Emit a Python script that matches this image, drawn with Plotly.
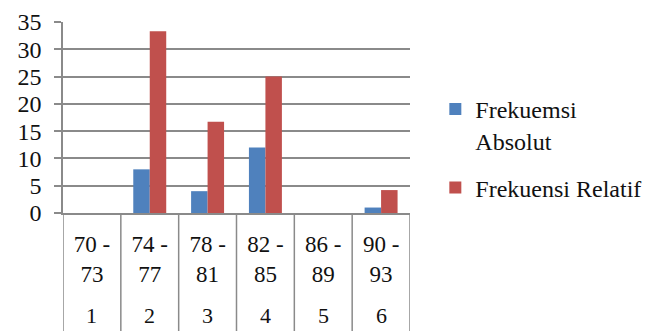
import plotly.graph_objects as go

ranges = ["70 - 73", "74 - 77", "78 - 81", "82 - 85", "86 - 89", "90 - 93"]
numbers = ["1", "2", "3", "4", "5", "6"]
absolut = [0, 8, 4, 12, 0, 1]
relatif = [0, 33.3, 16.7, 25, 0, 4.2]
yticks = [0, 5, 10, 15, 20, 25, 30, 35]

ticktext = []
for r in ranges:
    a, b = r.split(" - ")
    ticktext.append(f"{a} -<br>{b}")

xpos = list(range(len(ranges)))
GRID = "#8a8a8a"
FONT = "Liberation Serif, Times New Roman, serif"
TXT = "#111111"

fig = go.Figure()
fig.add_trace(go.Bar(x=xpos, y=absolut, name="Frekuemsi<br>Absolut", legendgroup="a",
                     marker=dict(color="#4F81BD", line=dict(width=0))))
fig.add_trace(go.Bar(x=xpos, y=relatif, name="Frekuensi Relatif", legendgroup="b",
                     marker=dict(color="#C0504D", line=dict(width=0))))

H_PLOT = 331 - 22 - 117.5
for i in range(len(ranges) + 1):
    fig.add_shape(type="line", xref="x", yref="paper",
                  x0=i - 0.5, x1=i - 0.5, y0=0, y1=-120 / H_PLOT,
                  line=dict(color=GRID, width=1.5))

for xi, n in zip(xpos, numbers):
    fig.add_annotation(x=xi, y=-103 / H_PLOT, xref="x", yref="paper",
                       text=n, showarrow=False, xanchor="center", yanchor="middle",
                       font=dict(family=FONT, size=22, color=TXT))

fig.update_layout(
    width=650, height=331,
    margin=dict(l=63, r=240, t=22, b=117.5, autoexpand=False),
    paper_bgcolor="white", plot_bgcolor="white",
    barmode="group", bargap=0.43, bargroupgap=0,
    font=dict(family=FONT, color=TXT),
    showlegend=True,
    legend=dict(x=1.073, y=0.66, xanchor="left", yanchor="top",
                font=dict(family=FONT, size=24, color=TXT),
                valign="top", traceorder="grouped", tracegroupgap=13, itemwidth=30,
                bgcolor="rgba(0,0,0,0)"),
)
fig.update_xaxes(range=[-0.5, len(ranges) - 0.5], tickvals=xpos, ticktext=ticktext,
                 tickangle=0, tickfont=dict(family=FONT, size=23, color=TXT), automargin=False,
                 showgrid=False, zeroline=False, showline=True,
                 linecolor=GRID, linewidth=1.5, ticks="", ticklabelstandoff=10)
fig.update_yaxes(range=[0, 35], tickvals=yticks, ticktext=[str(v) for v in yticks],
                 tickfont=dict(family=FONT, size=24, color=TXT), automargin=False,
                 showgrid=True, gridcolor=GRID, gridwidth=1.5,
                 zeroline=False, showline=True, linecolor=GRID, linewidth=1.5,
                 ticks="outside", ticklen=7, tickcolor=GRID, tickwidth=1.5,
                 ticklabelstandoff=8)

fig.write_html("out.html")
